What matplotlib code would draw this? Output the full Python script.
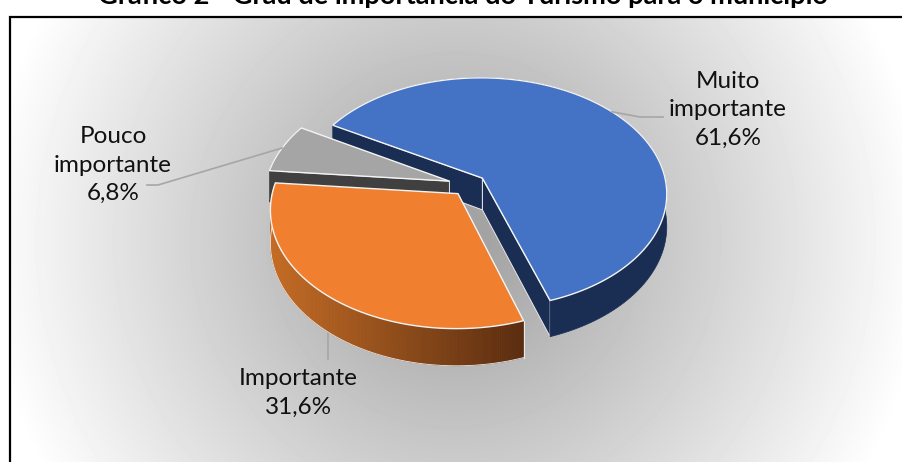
"""
Grafico 2 - pizza 3D explodida com fundo em gradiente radial
"""

import numpy as np
import matplotlib
matplotlib.use('Agg')
import matplotlib.pyplot as plt

plt.rcParams['font.family'] = ['Lato', 'DejaVu Sans']

# Dados
categorias = ['Muito\nimportante', 'Importante', 'Pouco\nimportante']
valores = [61.6, 31.6, 6.8]
rotulos = ['61,6%', '31,6%', '6,8%']
titulo = 'Gráfico 2 - Grau de importância do Turismo para o município'

# Estilo de cada fatia
cor_topo = ['#4472c4', '#f07f2f', '#a5a5a5']
cor_lado = ['#1a2d52', '#8a4a1c', '#404040']
explode = [0.095, 0.095, 0.112]
pos_texto = [(728, 110), (298, 393), (113, 165)]

# Projecao em perspectiva
CX, CY = 469, 185
A, B = 184, 115
K = 0.13
ALTURA = 32
ANGULO_INICIAL = 299.8


def projeta(ang, raio, off, z=0.0):
    # angulo em graus no sentido horario a partir do topo
    t = np.radians(ang)
    x = raio * np.sin(t) + off[0]
    y = raio * np.cos(t) + off[1]
    w = 1 + K * y
    return CX + A * x / w, CY + (-B * y + z * ALTURA) / w


fig = plt.figure(figsize=(9.02, 4.62), dpi=100)
ax = fig.add_axes([0, 0, 1, 1])
ax.set_xlim(0, 902)
ax.set_ylim(462, 0)
ax.axis('off')

# Fundo: gradiente radial
xx, yy = np.meshgrid(np.arange(10, 902), np.arange(17, 462))
dist = np.hypot(xx - 455, yy - 240)
fundo = np.clip(157 + 0.207 * dist, 0, 255)
ax.imshow(fundo, cmap='gray', vmin=0, vmax=255, extent=(10, 902, 462, 17), aspect='auto', zorder=0)
ax.plot([9.5, 9.5, 902], [462, 16.5, 16.5], color='black', lw=1.6, zorder=1, solid_joinstyle='miter')

# Angulos a partir dos valores
total = sum(valores)
inicio = []
fim = []
a = ANGULO_INICIAL
for v in valores:
    inicio.append(a)
    a += v / total * 360
    fim.append(a)
# ordem: Muito importante, Pouco importante, Importante
ordem_desenho = [0, 2, 1]

z = 2
for i in ordem_desenho:
    meio = np.radians((inicio[i] + fim[i]) / 2)
    off = (explode[i] * np.sin(meio), explode[i] * np.cos(meio))
    angs = np.linspace(inicio[i], fim[i], 200)
    xt, yt = projeta(angs, 1.0, off)
    xb, yb = projeta(angs, 1.0, off, 1.0)
    x0, y0 = projeta(0, 0.0, off)
    x0b, y0b = projeta(0, 0.0, off, 1.0)

    # faces radiais
    for ang in (inicio[i], fim[i]):
        xe, ye = projeta(ang, 1.0, off)
        xeb, yeb = projeta(ang, 1.0, off, 1.0)
        # so as faces voltadas para a frente aparecem
        visivel = (i == 0) or (i == 2 and ang == inicio[i])
        if visivel:
            ax.fill([x0, xe, xeb, x0b], [y0, ye, yeb, y0b], color=cor_lado[i],
                    ec='#e8e8e8', lw=0.7, zorder=z)

    # lateral externa
    if i == 1:
        # laranja com gradiente horizontal
        for j in range(len(angs) - 1):
            f = (xt[j] - xt.min()) / (xt.max() - xt.min())
            c0 = np.array([0xc4, 0x6c, 0x24])
            c1 = np.array([0x5a, 0x2c, 0x0f])
            cor = (c0 + (c1 - c0) * f) / 255
            ax.fill([xt[j], xt[j + 1], xb[j + 1], xb[j]], [yt[j], yt[j + 1], yb[j + 1], yb[j]],
                    color=cor, lw=0.5, zorder=z)
        ax.plot(xb, yb, color='#e8e8e8', lw=0.6, zorder=z)
        ax.plot([xt[0], xb[0]], [yt[0], yb[0]], color='#e8e8e8', lw=0.8, zorder=z)
    else:
        ax.fill(np.r_[xt, xb[::-1]], np.r_[yt, yb[::-1]], color=cor_lado[i], lw=0.5, zorder=z)

    # topo
    ax.fill(np.r_[x0, xt], np.r_[y0, yt], color=cor_topo[i], ec='#f4f4f4', lw=1.0, zorder=z + 1,
            joinstyle='miter')
    z += 2

# Linhas de chamada
cor_linha = '#a6a6a6'
for i, cat in enumerate(categorias):
    meio = (inicio[i] + fim[i]) / 2
    rad = np.radians(meio)
    off = (explode[i] * np.sin(rad), explode[i] * np.cos(rad))
    xs, ys = projeta(meio, 1.0, off, 1.0 if i == 1 else 0.0)
    tx, ty = pos_texto[i]
    if i == 0:
        ax.plot([xs, 640, 663], [ys, 117, 117], color=cor_linha, lw=1.2, zorder=20)
    elif i == 1:
        ax.plot([xs, xs], [ys, 359], color=cor_linha, lw=1.2, zorder=1)
    else:
        ax.plot([xs, 158, 147], [ys, 185, 185], color=cor_linha, lw=1.2, zorder=20)
    ax.text(tx, ty, cat + '\n' + rotulos[i], ha='center', va='center', fontsize=17.5,
            color='#111111', linespacing=1.45, zorder=30)

# Titulo cortado no topo da imagem
ax.text(463, 3.5, titulo, ha='center', va='baseline', fontsize=19.6, fontweight='bold',
        color='black', zorder=30)

fig.savefig('out.png', dpi=100)
plt.close(fig)
